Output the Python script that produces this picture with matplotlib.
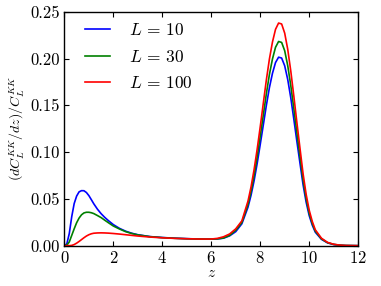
import numpy as np
import matplotlib
matplotlib.use('Agg')
import matplotlib.pyplot as plt
from matplotlib.ticker import FormatStrFormatter

plt.rcParams['font.family'] = 'serif'
plt.rcParams['font.serif'] = ['cmr10']
plt.rcParams['mathtext.fontset'] = 'cm'
plt.rcParams['axes.formatter.use_mathtext'] = True

# redshift grid and (dC/dz)/C for three multipoles
z = [0, 0.1, 0.2, 0.3, 0.4, 0.5, 0.6, 0.7, 0.8, 0.9,
     1.0, 1.1, 1.2, 1.35, 1.5, 1.65, 1.8, 2.0, 2.25, 2.5,
     2.75, 3.0, 3.5, 4.0, 4.5, 5.0, 5.5, 6.0, 6.25, 6.5,
     6.75, 7.0, 7.25, 7.5, 7.625, 7.75, 7.875, 8.0, 8.125, 8.25,
     8.375, 8.5, 8.625, 8.75, 8.875, 9.0, 9.125, 9.25, 9.375, 9.5,
     9.625, 9.75, 9.875, 10.0, 10.125, 10.25, 10.5, 10.75, 11.0, 11.25,
     11.5, 12.0]

L10 = [0, 0.002, 0.013, 0.031, 0.045, 0.053, 0.0575, 0.0588, 0.0587, 0.0568,
       0.0535, 0.0492, 0.0448, 0.0390, 0.0342, 0.0302, 0.0267, 0.0225, 0.0185, 0.0155,
       0.0133, 0.0117, 0.0097, 0.0087, 0.008, 0.0075, 0.0071, 0.007, 0.0072, 0.0080,
       0.0105, 0.015, 0.0234, 0.0411, 0.0539, 0.0695, 0.0878, 0.1081, 0.1288, 0.1498,
       0.1689, 0.1842, 0.1957, 0.2014, 0.2005, 0.1922, 0.1774, 0.1577, 0.1348, 0.1110,
       0.0880, 0.0652, 0.0466, 0.0322, 0.022, 0.0144, 0.0068, 0.003, 0.0012, 0.0005,
       0.0001, 0]

L30 = [0, 0.0005, 0.004, 0.011, 0.018, 0.0245, 0.0295, 0.033, 0.035, 0.0357,
       0.0357, 0.0352, 0.0343, 0.0322, 0.030, 0.0272, 0.0245, 0.021, 0.0178, 0.015,
       0.013, 0.0115, 0.0096, 0.0086, 0.0079, 0.0074, 0.0071, 0.007, 0.0073, 0.0082,
       0.011, 0.0165, 0.0248, 0.0441, 0.058, 0.075, 0.0948, 0.1168, 0.1394, 0.1622,
       0.1829, 0.1995, 0.212, 0.2182, 0.2172, 0.2083, 0.1922, 0.1708, 0.1461, 0.1202,
       0.0953, 0.0706, 0.0504, 0.0348, 0.0238, 0.0156, 0.0073, 0.0032, 0.0014, 0.0005,
       0.0002, 0]

L100 = [0, 0, 0, 0.0003, 0.0012, 0.0027, 0.0045, 0.0065, 0.0085, 0.0103,
        0.0117, 0.0127, 0.0133, 0.0136, 0.0137, 0.0136, 0.0134, 0.013, 0.0124, 0.0117,
        0.011, 0.0103, 0.0092, 0.0084, 0.0078, 0.0074, 0.0071, 0.0071, 0.0078, 0.0095,
        0.0125, 0.018, 0.0265, 0.0476, 0.0628, 0.0814, 0.103, 0.127, 0.152, 0.177,
        0.1994, 0.2176, 0.2312, 0.2379, 0.2369, 0.2271, 0.2096, 0.1863, 0.1593, 0.1311,
        0.1039, 0.077, 0.055, 0.038, 0.026, 0.017, 0.008, 0.0035, 0.0015, 0.0006,
        0.0002, 0]

fig = plt.figure(figsize=(3.81, 2.86), dpi=100)
ax = fig.add_axes([0.169, 0.141, 0.771, 0.818])

ax.plot(z, L10, color='blue', lw=1.2, label=r'$L\,=\,10$')
ax.plot(z, L30, color='green', lw=1.2, label=r'$L\,=\,30$')
ax.plot(z, L100, color='red', lw=1.2, label=r'$L\,=\,100$')

ax.set_xlim(0, 12)
ax.set_ylim(0, 0.25)
ax.set_xticks(np.arange(0, 13, 2))
ax.set_yticks(np.arange(0, 0.26, 0.05))
ax.yaxis.set_major_formatter(FormatStrFormatter('%.2f'))
ax.tick_params(direction='in', top=True, right=True, length=3.5, labelsize=12, pad=3)
for s in ax.spines.values():
    s.set_linewidth(1.0)

ax.set_xlabel(r'$z$', fontsize=11, labelpad=0)
ax.set_ylabel(r'$(dC_L^{KK}/dz)/C_L^{KK}$', fontsize=10, labelpad=3)
ax.legend(loc='upper left', bbox_to_anchor=(0.045, 0.985), borderaxespad=0,
          frameon=False, fontsize=12.5, handlelength=1.48, handletextpad=1.07,
          labelspacing=0.6, borderpad=0.4)

fig.savefig('out.png', dpi=100)
